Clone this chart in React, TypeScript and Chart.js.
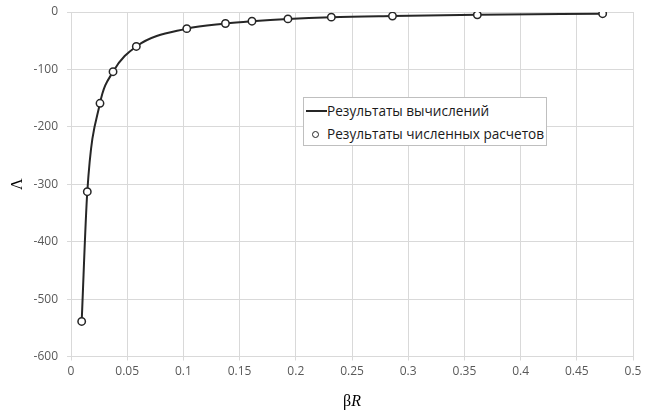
import React, { useEffect, useRef } from "react";
import { Chart, registerables } from "chart.js";

Chart.register(...registerables);

const betaR = [0.0095, 0.0145, 0.0258, 0.0374, 0.0581, 0.103, 0.1374, 0.161, 0.193, 0.2316, 0.286, 0.3615, 0.473];
const lambdaCalc = [-539, -313, -159, -104, -60, -29, -20, -16, -12, -9, -7, -5, -3];
const lambdaNum = [-539, -313, -159, -104, -60, -29, -20, -16, -12, -9, -7, -5, -3];
const xTicks = { min: 0, max: 0.5, step: 0.05 };
const yTicks = { min: -600, max: 0, step: 100 };
const seriesNames = ["Результаты вычислений", "Результаты численных расчетов"];
const xTitleParts = ["β", "R"];
const yTitle = "Λ";

const xTitlePlugin = {
  id: "xTitleMixed",
  afterDraw(chart: any) {
    const { ctx, chartArea } = chart;
    const cx = (chartArea.left + chartArea.right) / 2;
    const y = 402;
    ctx.save();
    ctx.fillStyle = "#000";
    ctx.textBaseline = "middle";
    const f1 = "16px 'Liberation Serif', serif";
    const f2 = "italic 16px 'Liberation Serif', serif";
    ctx.font = f1;
    const w1 = ctx.measureText(xTitleParts[0]).width;
    ctx.font = f2;
    const w2 = ctx.measureText(xTitleParts[1]).width;
    let x = cx - (w1 + w2) / 2;
    ctx.textAlign = "left";
    ctx.font = f1;
    ctx.fillText(xTitleParts[0], x, y);
    ctx.font = f2;
    ctx.fillText(xTitleParts[1], x + w1, y);
    ctx.restore();
  },
};

export default function App() {
  const ref = useRef<HTMLCanvasElement | null>(null);
  useEffect(() => {
    if (!ref.current) return;
    const tickFont = { family: "'Open Sans', sans-serif", size: 12 };
    const chart = new Chart(ref.current, {
      type: "scatter",
      data: {
        datasets: [
          {
            label: seriesNames[1],
            data: betaR.map((x, i) => ({ x, y: lambdaNum[i] })),
            showLine: false,
            pointRadius: 3.7,
            pointBackgroundColor: "#ffffff",
            pointBorderColor: "#262626",
            pointBorderWidth: 1.5,
            order: 0,
          },
          {
            label: seriesNames[0],
            data: betaR.map((x, i) => ({ x, y: lambdaCalc[i] })),
            showLine: true,
            pointRadius: 0,
            borderColor: "#262626",
            borderWidth: 2,
            cubicInterpolationMode: "monotone",
            order: 1,
          },
        ],
      },
      options: {
        animation: false,
        responsive: false,
        maintainAspectRatio: false,
        layout: { padding: { top: 12, right: 19, left: 0, bottom: 0 } },
        plugins: { legend: { display: false }, tooltip: { enabled: false } },
        scales: {
          x: {
            type: "linear",
            min: xTicks.min,
            max: xTicks.max,
            afterFit: (s: any) => { s.height = 58.5; s.paddingRight = 0; s.paddingLeft = 0; },
            ticks: {
              stepSize: xTicks.step,
              color: "#595959",
              font: tickFont,
              padding: 4,
              callback: (v: any) => String(+Number(v).toFixed(2)),
            },
            grid: { color: "#d9d9d9", tickLength: 4, tickColor: "#d9d9d9" },
            border: { display: false },
          },
          y: {
            type: "linear",
            min: yTicks.min,
            max: yTicks.max,
            afterFit: (s: any) => { s.width = 71; s.paddingTop = 0; s.paddingBottom = 0; },
            ticks: {
              stepSize: yTicks.step,
              color: "#595959",
              font: tickFont,
              padding: 9,
            },
            grid: { color: "#d9d9d9", tickLength: 4, tickColor: "#d9d9d9" },
            border: { display: false },
            title: {
              display: true,
              text: yTitle,
              color: "#000",
              font: { family: "'Liberation Serif', serif", size: 16 },
              padding: { top: 8, bottom: 0 },
            },
          },
        },
      },
      plugins: [xTitlePlugin],
    });
    return () => chart.destroy();
  }, []);

  const legendText = { fontFamily: "'Open Sans', sans-serif", fontSize: 13.6, color: "#1a1a1a", whiteSpace: "nowrap" as const };
  return (
    <div style={{ position: "fixed", left: 0, top: 0, width: 652, height: 415, background: "#fff" }}>
      <canvas ref={ref} width={652} height={415} style={{ position: "absolute", left: 0, top: 0 }} />
      <div
        style={{
          position: "absolute",
          left: 303,
          top: 97,
          width: 244,
          height: 49,
          background: "#fff",
          border: "1px solid #bfbfbf",
          boxSizing: "border-box",
        }}
      >
        <div style={{ position: "absolute", left: 2, top: 12, width: 21, height: 2, background: "#262626" }} />
        <div style={{ ...legendText, position: "absolute", left: 23, top: 3, lineHeight: "19px" }}>{seriesNames[0]}</div>
        <div
          style={{
            position: "absolute",
            left: 8,
            top: 33,
            width: 5,
            height: 5,
            borderRadius: "50%",
            border: "1.5px solid #262626",
            background: "#fff",
          }}
        />
        <div style={{ ...legendText, position: "absolute", left: 23, top: 26, lineHeight: "19px" }}>{seriesNames[1]}</div>
      </div>
    </div>
  );
}
